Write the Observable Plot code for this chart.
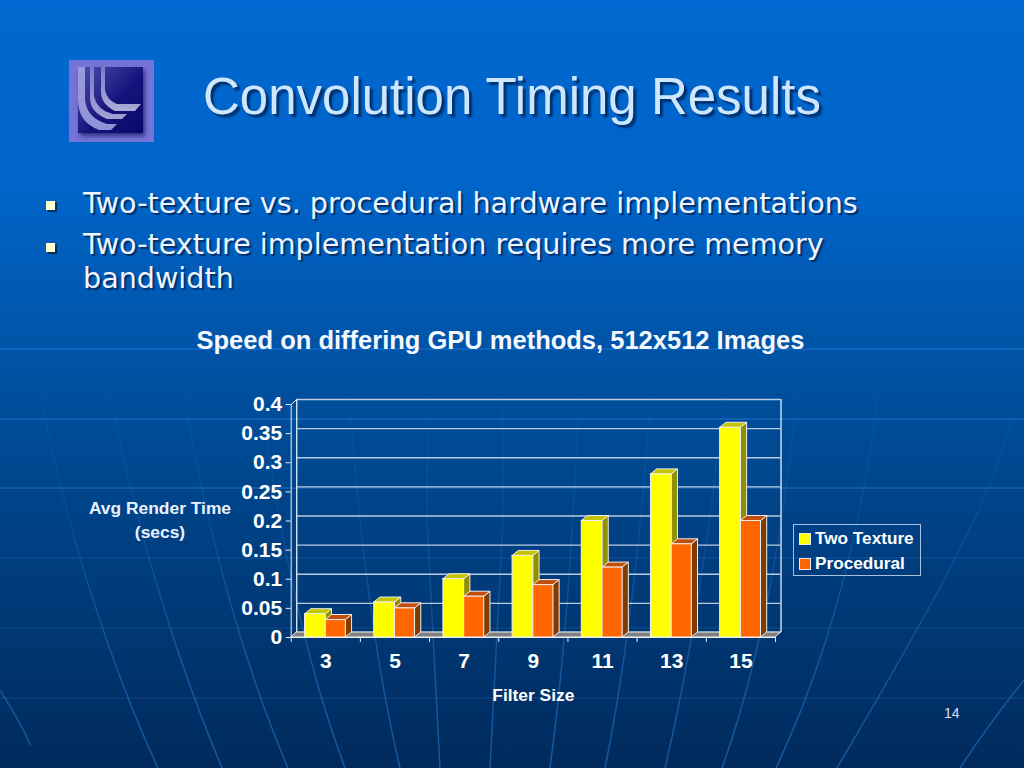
<!DOCTYPE html>
<html><head><meta charset="utf-8">
<script src="https://cdn.jsdelivr.net/npm/d3@7"></script>
<script src="https://cdn.jsdelivr.net/npm/@observablehq/plot@0.6"></script>
<style>
html,body{margin:0;padding:0;width:1024px;height:768px;overflow:hidden}
body{position:relative;background:linear-gradient(180deg,#0068d0 0%,#0064c8 25%,#00509f 50%,#003c7c 75%,#002a5c 100%);color:#fff;font-family:"Liberation Sans",Arial,sans-serif}
.abs{position:absolute;white-space:nowrap}
#deco{position:absolute;left:0;top:0}
#title{left:203px;top:68px;font-size:51px;line-height:58px;color:#cfe6ff;text-shadow:3px 3px 2px #00306c}
.bul{left:83px;font-family:"DejaVu Sans",Verdana,sans-serif;font-size:28.6px;line-height:34px;color:#eef5ff;text-shadow:2px 2px 1px #00306c}
.sq{position:absolute;left:46px;width:9px;height:9px;background:#ffffd0;box-shadow:2px 2px 1px #00306c}
#ctitle{left:0;width:1001px;text-align:center;top:326px;font-weight:bold;font-size:25.5px;line-height:28px;color:#f4f8ff}
#ylab{left:60px;width:200px;text-align:center;top:496px;font-weight:bold;font-size:17.4px;line-height:24px;white-space:normal;color:#eaf2ff}
#legend{left:793px;top:524px;width:126px;height:49.5px;border:1.5px solid #a9c0dc;font-weight:bold;font-size:17.2px}
#legend div{position:absolute;left:21px;white-space:nowrap;line-height:20px}
#legend i{position:absolute;left:-16px;top:5px;width:10px;height:10px;border:1px solid #e8e8e8}
#num{left:944px;top:705px;font-size:14px;color:#dde}
#chart{position:absolute;left:0;top:385px}
</style></head><body>
<svg id="deco" width="1024" height="768" fill="none">
<defs><linearGradient id="fade" gradientUnits="userSpaceOnUse" x1="0" x2="0" y1="300" y2="768">
<stop offset="0" stop-color="#2a86e0" stop-opacity="0"/><stop offset=".45" stop-color="#2a86e0" stop-opacity=".14"/><stop offset=".75" stop-color="#2a86e0" stop-opacity=".4"/><stop offset="1" stop-color="#2a86e0" stop-opacity=".5"/></linearGradient></defs>
<path d="M0 208H1024M0 278H1024" stroke="#2a86e0" stroke-opacity=".12"/>
<path d="M0 349H1024M0 419H1024M0 488H1024" stroke="#2a86e0" stroke-opacity=".45" stroke-width="1.5"/>
<path d="M0 558H1024M0 628H1024M0 698H1024" stroke="#2a86e0" stroke-opacity=".18" stroke-width="1.5"/>
<g stroke="url(#fade)" stroke-width="1.5">
<path d="M30 300C35 420 90 620 158 768M100 300C105 420 160 620 222 768M175 300C180 420 225 620 288 768M255 300C258 420 290 620 345 768M345 300C348 420 365 620 400 768M427 300V520L440 768M503 300V520L490 768M580 300C580 420 570 620 550 768M655 300C652 420 635 620 605 768M730 300C725 420 700 620 665 768M800 300C800 420 775 620 722 768M885 300C880 420 855 600 776 768M1015 400C1005 480 930 610 837 768"/>
<path d="M0 690C15 715 25 730 30 745M1024 680C1000 710 985 730 960 768"/>
</g>
</svg>
<svg class="abs" style="left:69px;top:60px" width="85" height="82">
<defs><linearGradient id="lg" x1="0" x2="1" y1="0" y2="1"><stop offset="0" stop-color="#5050b0"/><stop offset=".55" stop-color="#14147c"/><stop offset="1" stop-color="#080868"/></linearGradient>
<linearGradient id="sh" x1="0" x2="0" y1="0" y2="1"><stop offset="0" stop-color="#9090dc"/><stop offset="1" stop-color="#e0e0f8"/></linearGradient></defs>
<rect width="85" height="82" fill="#7474d8"/><rect x="9" y="7" width="65" height="66" fill="url(#lg)" style="filter:drop-shadow(2px 3px 2px #303080)"/>
<path d="M9 7H16V40Q18 58 38 64H48L42 70H30Q9 62 9 40Z" fill="#a8a8e8" opacity=".85"/>
<path d="M21 7H25V36Q28 50 44 54H58L53 59H38Q21 52 21 38Z" fill="url(#sh)" opacity=".7"/>
<path d="M32 7H36V30Q38 40 48 44H72L66 51H46Q32 44 32 32Z" fill="url(#sh)" opacity=".75"/>
</svg>
<div id="title" class="abs">Convolution Timing Results</div>
<span class="sq" style="top:201px"></span><div class="abs bul" style="top:186px">Two-texture vs. procedural hardware implementations</div>
<span class="sq" style="top:243px"></span><div class="abs bul" style="top:227px">Two-texture implementation requires more memory</div>
<div class="abs bul" style="top:261px">bandwidth</div>
<div id="ctitle" class="abs">Speed on differing GPU methods, 512x512 Images</div>
<div id="ylab" class="abs">Avg Render Time<br>(secs)</div>
<div id="chart"></div>
<div id="legend" class="abs">
<div style="top:3px"><i style="background:#ffff00"></i>Two Texture</div>
<div style="top:28px"><i style="background:#ff6600"></i>Procedural</div>
</div>
<div id="num" class="abs">14</div>
<script>
const filterSizes = [3, 5, 7, 9, 11, 13, 15];
const twoTexture = [0.04, 0.06, 0.10, 0.14, 0.20, 0.28, 0.36];
const procedural = [0.03, 0.05, 0.07, 0.09, 0.12, 0.16, 0.20];
const yTicks = [0, 0.05, 0.1, 0.15, 0.2, 0.25, 0.3, 0.35, 0.4];

// depth of the 3-D projection, in scale units
const wallX = 0.08, wallY = 0.0086;   // wall offset
const barX = 0.09, barY = 0.0086;     // bar side offset
const barW = 0.30;

const bars = [];
filterSizes.forEach((f, i) => {
  bars.push({i, x0: i + 0.5 - barW, x1: i + 0.5, v: twoTexture[i], front: "#ffff00", top: "#c4c400", side: "#8f8f00"});
  bars.push({i, x0: i + 0.5, x1: i + 0.5 + barW - 0.01, v: procedural[i], front: "#ff6600", top: "#c24e0c", side: "#803c00"});
});
const face = (pts, fill) => Plot.areaY(pts, {x: d => d[0], y1: d => d[1], y2: d => d[2], fill, stroke: "#eeeeee", strokeWidth: 1, curve: "linear"});
const sideFace = b => [[b.x1, 0, b.v], [b.x1 + barX, barY, b.v + barY]];
const topFace = b => [[b.x0, b.v, b.v], [b.x0 + barX, b.v, b.v + barY], [b.x1, b.v, b.v + barY], [b.x1 + barX, b.v + barY, b.v + barY]];

const n = filterSizes.length;
const barMarks = bars.flatMap(b => [
  face(sideFace(b), b.side),
  face(topFace(b), b.top),
  Plot.rect([b], {x1: "x0", x2: "x1", y1: 0, y2: "v", fill: b.front, stroke: "#eeeeee", strokeWidth: 1})
]);

const plot = Plot.plot({
  width: 1024, height: 330,
  marginLeft: 290.7, marginRight: 249, marginTop: 19, marginBottom: 78,
  style: {background: "transparent", color: "#fff", overflow: "visible", fontFamily: '"Liberation Sans", Arial, sans-serif'},
  x: {type: "linear", domain: [0, n]},
  y: {domain: [0, 0.4]},
  marks: [
    // back wall grid
    Plot.ruleY(yTicks, {x1: wallX, x2: n + wallX, y: d => d + wallY, stroke: "#e8eef6", strokeOpacity: 0.8, strokeWidth: 1.3}),
    Plot.ruleX([wallX, n + wallX], {y1: wallY, y2: 0.4 + wallY, stroke: "#e8eef6", strokeWidth: 1.3}),
    // left side wall and floor edges
    Plot.ruleX([0], {y1: 0, y2: 0.4, stroke: "#e8eef6", strokeWidth: 1}),
    Plot.line([[0, 0.4], [wallX, 0.4 + wallY]], {x: d => d[0], y: d => d[1], stroke: "#e8eef6", strokeWidth: 1}),
    face([[0, 0, 0], [wallX, 0, wallY], [n, 0, wallY], [n + wallX, wallY, wallY]], "#808080"),
    ...barMarks,
    Plot.ruleY([0], {x1: 0, x2: n, stroke: "#eeeeee", strokeWidth: 1.2}),
    Plot.axisY({ticks: yTicks, tickFormat: d => String(d), tickSize: 5, tickPadding: 4, fontSize: 21, fontWeight: "bold", label: null, stroke: "#e8eef6"}),
    Plot.axisX({ticks: d3.range(0, n + 1), tickFormat: () => "", tickSize: 5, label: null, stroke: "#e8eef6"}),
    Plot.text(filterSizes, {x: (d, i) => i + 0.5, y: 0, text: d => String(d), dy: 24, fontSize: 21, fontWeight: "bold", fill: "#fff"}),
    Plot.text(["Filter Size"], {x: n / 2, y: 0, dy: 58, fontSize: 17.4, fontWeight: "bold", fill: "#fff"})
  ]
});
document.getElementById("chart").appendChild(plot);
</script>
</body></html>
